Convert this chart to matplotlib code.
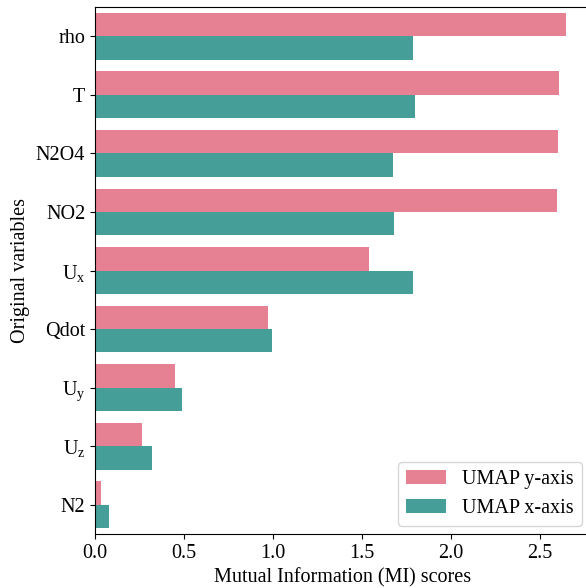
import matplotlib
matplotlib.use("Agg")
import matplotlib.pyplot as plt
import numpy as np
import seaborn as sns

variables = ["rho", "T", "N2O4", "NO2", r"$\mathrm{U_x}$", "Qdot",
             r"$\mathrm{U_y}$", r"$\mathrm{U_z}$", "N2"]
mi_umap_y = [2.644, 2.607, 2.601, 2.596, 1.539, 0.974, 0.451, 0.262, 0.036]
mi_umap_x = [1.788, 1.798, 1.676, 1.680, 1.788, 0.993, 0.491, 0.322, 0.079]
series_names = ["UMAP y-axis", "UMAP x-axis"]
x_ticks = [0.0, 0.5, 1.0, 1.5, 2.0, 2.5]

FS = 14.5
plt.rcParams["font.family"] = ["Liberation Serif", "DejaVu Serif"]
plt.rcParams["mathtext.fontset"] = "custom"
plt.rcParams["mathtext.rm"] = "Liberation Serif"
plt.rcParams["font.size"] = FS

palette = sns.color_palette("husl", 2, desat=0.75)

fig = plt.figure(figsize=(5.86, 5.88), dpi=100)
ax = fig.add_axes([95 / 586, 54 / 588, 495 / 586, 527 / 588])

pos = np.arange(len(variables))
h = 0.4
ax.barh(pos - h / 2, mi_umap_y, height=h, color=palette[0], label=series_names[0])
ax.barh(pos + h / 2, mi_umap_x, height=h, color=palette[1], label=series_names[1])

ax.set_yticks(pos)
ax.set_yticklabels(variables)
ax.set_ylim(len(variables) - 0.5, -0.5)
ax.set_xlim(0, 2.78)
ax.set_xticks(x_ticks)
ax.set_xticklabels([f"{t:.1f}" for t in x_ticks])
ax.tick_params(labelsize=FS)
ax.set_xlabel("Mutual Information (MI) scores", fontsize=FS)
ax.set_ylabel("Original variables", fontsize=FS)
ax.legend(loc="lower right", fontsize=FS, borderaxespad=0.4)

fig.savefig("out.png", dpi=100)
